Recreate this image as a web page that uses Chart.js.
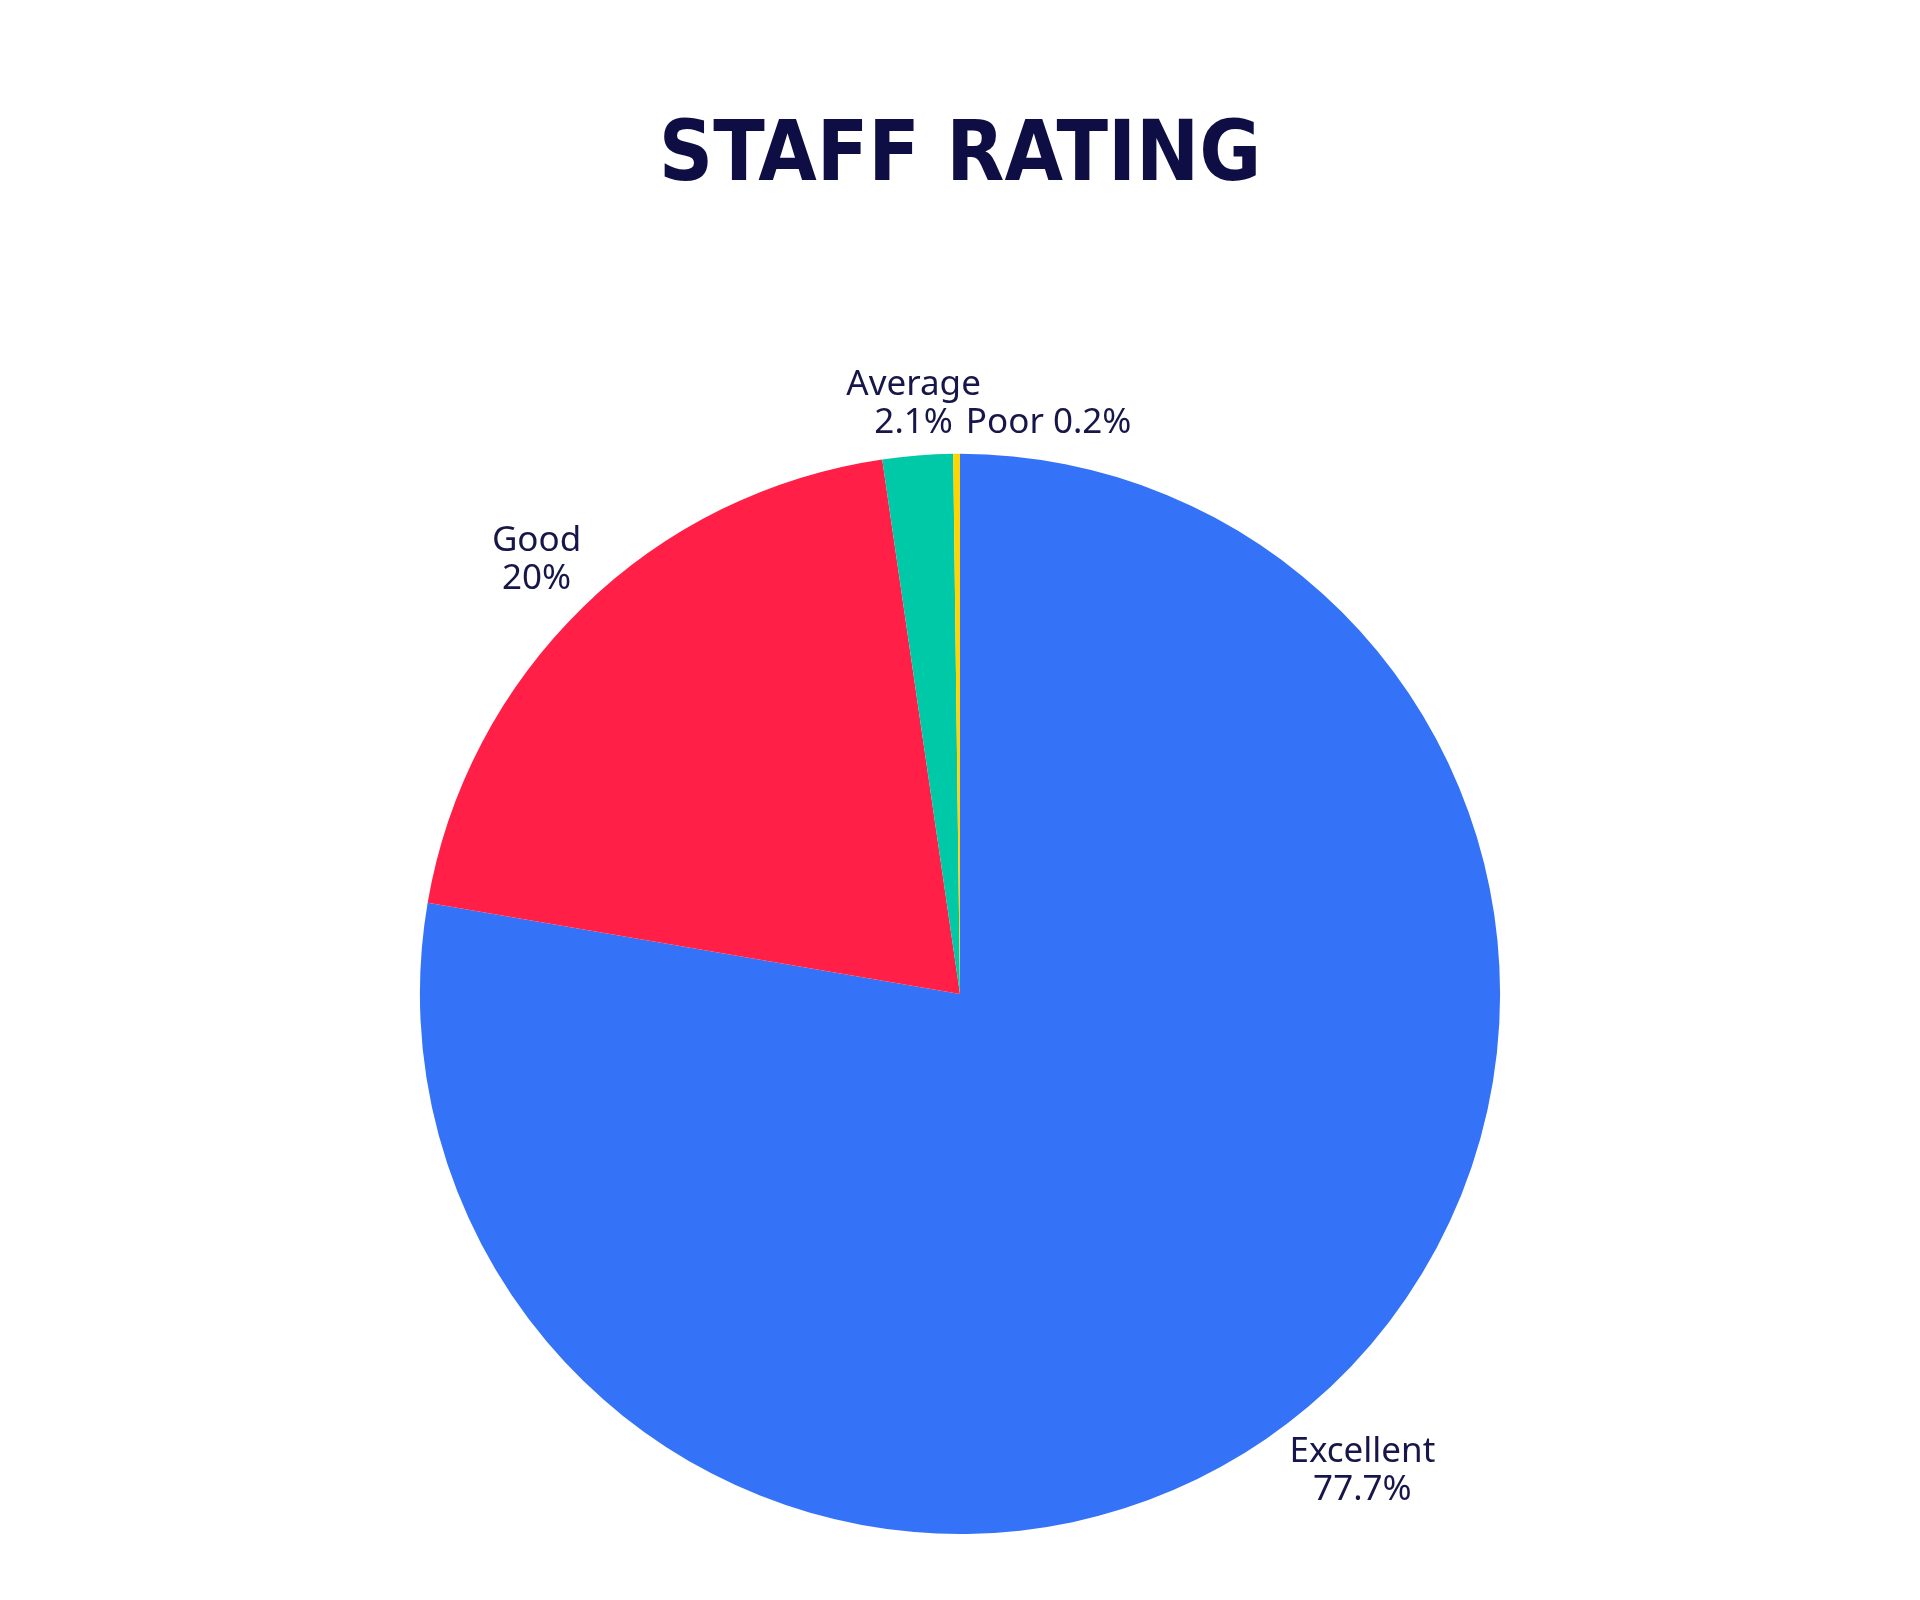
<!DOCTYPE html>
<html>
<head>
<meta charset="utf-8">
<title>Staff Rating</title>
<script src="https://cdn.jsdelivr.net/npm/chart.js@4.4.1/dist/chart.umd.min.js"></script>
<style>
  html, body { margin: 0; padding: 0; background: #ffffff; }
  #wrap { width: 1920px; height: 1600px; }
</style>
</head>
<body>
<div id="wrap"><canvas id="staff" width="1920" height="1600"></canvas></div>
<script>
const ratingLabels = ['Excellent', 'Good', 'Average', 'Poor'];
const ratingShares = [77.7, 20, 2.1, 0.2];
const ratingColors = ['#3472F8', '#FF1F47', '#00C9A8', '#FFD500'];

const textColor = '#16164a';
const labelFont = '400 35px "Noto Sans", sans-serif';
const lineH = 38;
const labelGap = 8;

// draws the "Name / xx%" labels just outside each slice,
// pushed out far enough that the text box clears the pie
const outsideLabels = {
  id: 'outsideLabels',
  afterDatasetsDraw(chart) {
    const ctx = chart.ctx;
    const meta = chart.getDatasetMeta(0);
    ctx.save();
    ctx.font = labelFont;
    ctx.fillStyle = textColor;
    ctx.textBaseline = 'middle';
    let prevRight = null;
    meta.data.forEach((arc, i) => {
      const name = ratingLabels[i];
      const pct = ratingShares[i] + '%';
      if (ratingShares[i] < 1 && prevRight) {
        // tiny slice: keep it on one line next to the previous label
        ctx.textAlign = 'left';
        ctx.fillText(name + ' ' + pct, prevRight.x + 13, prevRight.y);
        return;
      }
      const mid = (arc.startAngle + arc.endAngle) / 2;
      const ux = Math.cos(mid), uy = Math.sin(mid);
      const w = Math.max(ctx.measureText(name).width, ctx.measureText(pct).width);
      const h = lineH * 2;
      const push = Math.abs(ux) * w / 2 + Math.abs(uy) * h / 2;
      const r = arc.outerRadius + labelGap + push;
      const x = arc.x + ux * r;
      const y = arc.y + uy * r;
      ctx.textAlign = 'center';
      ctx.fillText(name, x, y - lineH / 2);
      ctx.fillText(pct, x, y + lineH / 2);
      prevRight = { x: x + ctx.measureText(pct).width / 2, y: y + lineH / 2 };
    });
    ctx.restore();
  }
};

new Chart(document.getElementById('staff').getContext('2d'), {
  type: 'pie',
  data: {
    labels: ratingLabels,
    datasets: [{
      data: ratingShares,
      backgroundColor: ratingColors,
      borderWidth: 0
    }]
  },
  options: {
    responsive: false,
    animation: false,
    layout: {
      padding: { bottom: 66 }
    },
    plugins: {
      legend: { display: false },
      tooltip: { enabled: false },
      title: {
        display: true,
        text: 'STAFF RATING',
        color: '#0e0e45',
        font: { family: '"DejaVu Sans Condensed", sans-serif', size: 84, weight: 'bold', lineHeight: 1.2 },
        padding: { top: 108, bottom: 245 }
      }
    }
  },
  plugins: [outsideLabels]
});
</script>
</body>
</html>
